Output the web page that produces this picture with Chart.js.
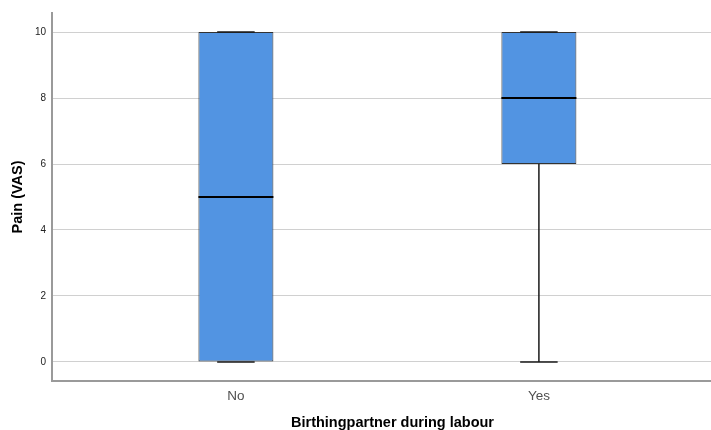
<!DOCTYPE html>
<html lang="en">
<head>
  <meta charset="UTF-8">
  <title>Pain (VAS) by birthing partner</title>
  <script src="https://cdn.jsdelivr.net/npm/chart.js"></script>
  <style>
    html, body { margin: 0; padding: 0; background: #fff; }
    #wrap { width: 711px; height: 430px; }
  </style>
</head>
<body>
  <div id="wrap"><canvas id="boxplot"></canvas></div>

  <script>
    // five-number summaries per group
    const groups = ['No', 'Yes'];
    const groupPos = [1, 2];
    const minVals = [0, 0];
    const q1Vals = [0, 6];
    const medians = [5, 8];
    const q3Vals = [10, 10];
    const maxVals = [10, 10];
    const yTicks = [0, 2, 4, 6, 8, 10];
    const xTitle = 'Birthingpartner during labour';

    const font = "Arial, 'Liberation Sans', sans-serif";

    // whiskers, caps and median lines, placed with the chart's scales
    const boxExtras = {
      id: 'boxExtras',
      afterDatasetsDraw(chart) {
        const { ctx, scales: { x, y } } = chart;
        const bars = chart.getDatasetMeta(0).data;
        ctx.save();
        groups.forEach((g, i) => {
          const cx = x.getPixelForValue(groupPos[i]);
          const w = bars[i].width;
          const cap = w / 4;
          ctx.strokeStyle = '#1a1a1a';
          ctx.lineWidth = 1.5;
          ctx.beginPath();
          ctx.moveTo(cx, y.getPixelForValue(q1Vals[i]));
          ctx.lineTo(cx, y.getPixelForValue(minVals[i]));
          ctx.moveTo(cx, y.getPixelForValue(q3Vals[i]));
          ctx.lineTo(cx, y.getPixelForValue(maxVals[i]));
          ctx.moveTo(cx - cap, y.getPixelForValue(minVals[i]));
          ctx.lineTo(cx + cap, y.getPixelForValue(minVals[i]));
          ctx.moveTo(cx - cap, y.getPixelForValue(maxVals[i]));
          ctx.lineTo(cx + cap, y.getPixelForValue(maxVals[i]));
          ctx.stroke();
          ctx.strokeStyle = '#000';
          ctx.lineWidth = 2;
          ctx.beginPath();
          const my = y.getPixelForValue(medians[i]);
          ctx.moveTo(cx - w / 2, my);
          ctx.lineTo(cx + w / 2, my);
          ctx.stroke();
        });
        ctx.restore();
      },
      // x axis title sits a little right of the plot centre
      afterDraw(chart) {
        const { ctx, scales: { x } } = chart;
        ctx.save();
        ctx.fillStyle = '#000';
        ctx.font = 'bold 14.5px ' + font;
        ctx.textAlign = 'center';
        ctx.textBaseline = 'alphabetic';
        ctx.fillText(xTitle, (x.left + x.right) / 2 + 11, x.bottom - 3.5);
        ctx.restore();
      }
    };

    new Chart(document.getElementById('boxplot'), {
      type: 'bar',
      data: {
        datasets: [{
          data: groups.map((g, i) => ({ x: groupPos[i], y: [q1Vals[i], q3Vals[i]] })),
          backgroundColor: '#5294e2',
          borderColor: '#333',
          borderWidth: 1,
          borderSkipped: false,
          barPercentage: 0.2475,
          categoryPercentage: 1
        }]
      },
      options: {
        responsive: true,
        maintainAspectRatio: false,
        animation: false,
        layout: { padding: { top: 13, right: 0, left: 0, bottom: 0 } },
        plugins: { legend: { display: false }, tooltip: { enabled: false } },
        scales: {
          x: {
            type: 'linear',
            offset: false,
            min: 0.393,
            max: 2.568,
            afterBuildTicks: s => { s.ticks = groupPos.map(v => ({ value: v })); },
            afterFit: s => { s.height = 49; },
            grid: { display: false, drawTicks: false },
            border: { display: true, color: '#9a9a9a', width: 2 },
            ticks: {
              padding: 7,
              color: '#505050',
              font: { family: font, size: 13.5 },
              callback: v => groups[groupPos.indexOf(v)]
            },
            title: { display: false }
          },
          y: {
            min: -0.576,
            max: 10.576,
            afterBuildTicks: s => { s.ticks = yTicks.map(v => ({ value: v })); },
            afterFit: s => { s.width = 52; },
            grid: { color: '#d0d0d0', lineWidth: 1, drawTicks: false },
            border: { display: true, color: '#9a9a9a', width: 2 },
            ticks: {
              padding: 6,
              color: '#222',
              font: { family: font, size: 10 }
            },
            title: {
              display: true,
              text: 'Pain (VAS)',
              color: '#000',
              font: { family: font, size: 14.5, weight: 'bold' },
              padding: { top: 9, bottom: 0 }
            }
          }
        }
      },
      plugins: [boxExtras]
    });
  </script>
</body>
</html>
